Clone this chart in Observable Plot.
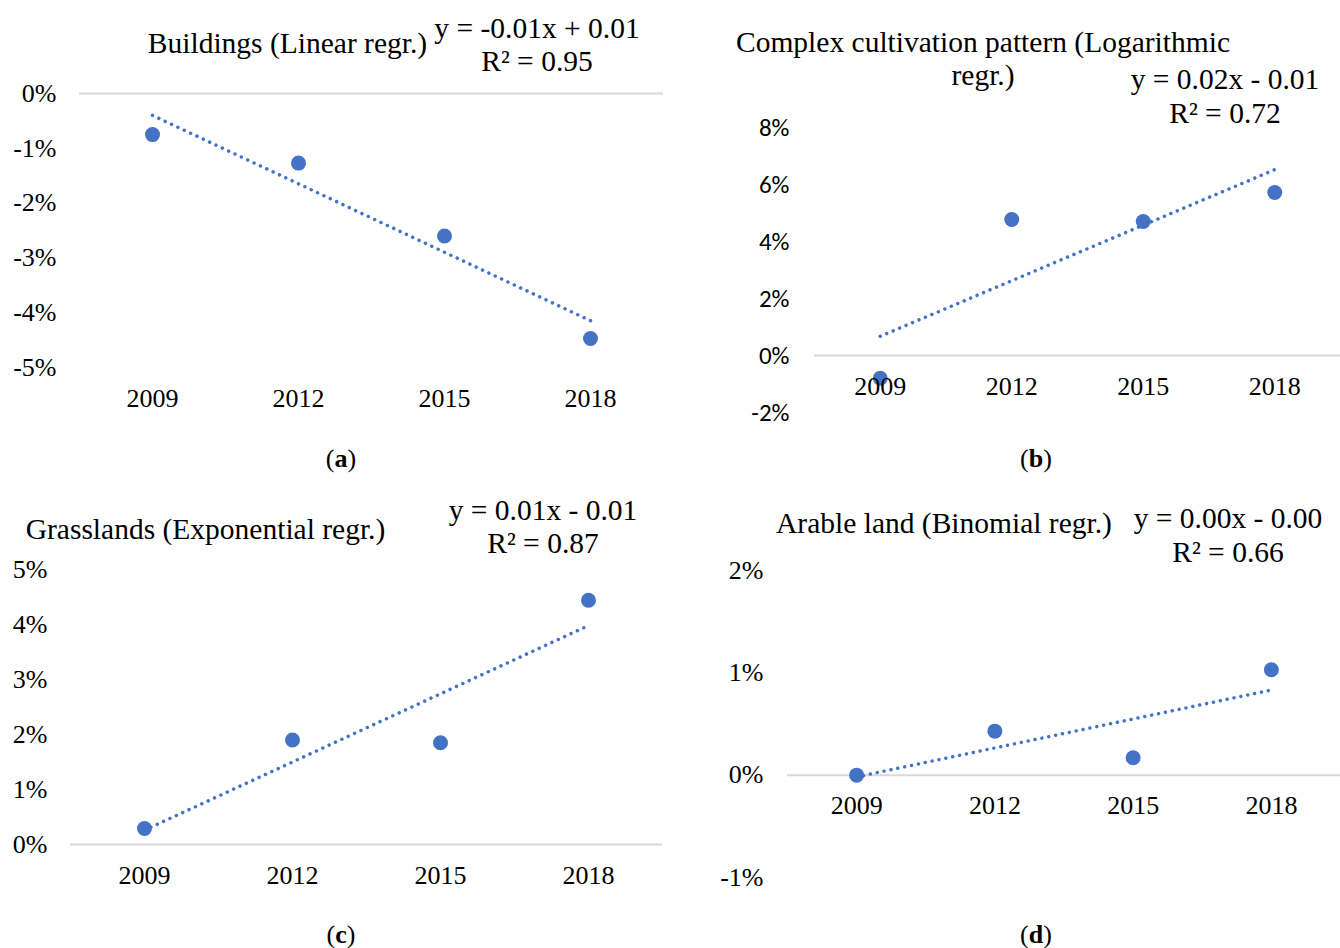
<!DOCTYPE html>
<html>
<head>
<meta charset="utf-8">
<script src="https://cdn.jsdelivr.net/npm/d3@7"></script>
<script src="https://cdn.jsdelivr.net/npm/@observablehq/plot@0.6"></script>
<style>
  html, body { margin: 0; padding: 0; background: #fff; }
  #page { position: relative; width: 1340px; height: 948px; overflow: hidden; font-family: "Liberation Serif", "Times New Roman", serif; color: #000; }
  .abs { position: absolute; white-space: nowrap; transform: translateX(-50%); text-align: center; }
  .plotbox { position: absolute; }
  .plotbox svg { overflow: visible; }
  .plotbox svg text { font-family: "Liberation Serif", "Times New Roman", serif; }
  .plotbox.sansticks g[aria-label="y-axis tick label"] text { font-family: Carlito, Calibri, Lato, "Noto Sans", sans-serif; }
</style>
</head>
<body>
<div id="page"></div>
<script>
// ---- data ----
const years = [2009, 2012, 2015, 2018];
const buildings = [-0.75, -1.27, -2.6, -4.47];
const complexCultivation = [-0.8, 4.77, 4.7, 5.72];
const grasslands = [0.29, 1.9, 1.85, 4.44];
const arableLand = [0, 0.43, 0.17, 1.03];

const ticksA = [0, -1, -2, -3, -4, -5];
const ticksB = [8, 6, 4, 2, 0, -2];
const ticksC = [0, 1, 2, 3, 4, 5];
const ticksD = [2, 1, 0, -1];

const titles = ["Buildings (Linear regr.)", "Complex cultivation pattern (Logarithmic<br>regr.)", "Grasslands (Exponential regr.)", "Arable land (Binomial regr.)"];
const equations = ["y = -0.01x + 0.01", "y = 0.02x - 0.01", "y = 0.01x - 0.01", "y = 0.00x - 0.00"];
const rSquared = ["R² = 0.95", "R² = 0.72", "R² = 0.87", "R² = 0.66"];
const captions = ["a", "b", "c", "d"];

const BLUE = "#4472C4";
const page = document.getElementById("page");

function panel(o) {
  const data = years.map((year, i) => ({year, value: o.values[i]}));
  const chart = Plot.plot({
    width: o.width, height: o.height,
    marginLeft: o.mL, marginRight: o.mR, marginTop: o.mT, marginBottom: o.mB,
    x: {domain: [2007.5, 2019.5], axis: null},
    y: {domain: o.domain},
    style: {fontFamily: "'Liberation Serif', 'Times New Roman', serif", fontSize: "26px", color: "#000", background: "transparent"},
    marks: [
      Plot.ruleY([0], {stroke: "#d9d9d9", strokeWidth: 2}),
      Plot.axisY({ticks: o.ticks, tickSize: 0, tickPadding: o.tickPad, tickFormat: d => `${d}%`, label: null,
        fontSize: o.tickFontSize, fill: "#000"}),
      Plot.linearRegressionY(data, {x: "year", y: "value", stroke: BLUE, strokeWidth: 3.5,
        strokeDasharray: "0.01 7", strokeLinecap: "round", ci: 0}),
      Plot.dot(data, {x: "year", y: "value", r: 7.5, fill: BLUE}),
      Plot.text(years, {x: d => d, y: () => o.labelAt, dy: 31, text: d => String(d), fontSize: 26, fill: "#000"})
    ]
  });
  const box = document.createElement("div");
  box.className = "plotbox" + (o.sans ? " sansticks" : "");
  box.style.left = o.left + "px";
  box.style.top = o.top + "px";
  box.appendChild(chart);
  page.appendChild(box);
}

// cy = vertical centre of the first line
function label(html, cx, cy, fs, lh) {
  const d = document.createElement("div");
  d.className = "abs";
  d.innerHTML = html;
  d.style.left = cx + "px";
  d.style.top = (cy - lh / 2) + "px";
  d.style.fontSize = fs + "px";
  d.style.lineHeight = lh + "px";
  page.appendChild(d);
}

panel({values: buildings, ticks: ticksA, domain: [-5, 0], left: 0, top: 0, width: 670, height: 440,
  mL: 79, mR: 7, mT: 93, mB: 73, tickPad: 23, tickFontSize: 26, labelAt: -5});
panel({values: complexCultivation, ticks: ticksB, domain: [-2, 8], left: 670, top: 0, width: 670, height: 440,
  mL: 144, mR: 0, mT: 127, mB: 28, tickPad: 25, tickFontSize: 25, labelAt: 0, sans: true});
panel({values: grasslands, ticks: ticksC, domain: [0, 5], left: 0, top: 470, width: 670, height: 440,
  mL: 70, mR: 8, mT: 99, mB: 66, tickPad: 23, tickFontSize: 26, labelAt: 0});
panel({values: arableLand, ticks: ticksD, domain: [-1, 2], left: 670, top: 470, width: 670, height: 440,
  mL: 117, mR: 0, mT: 100, mB: 33, tickPad: 24, tickFontSize: 26, labelAt: 0});

// titles
label(titles[0], 287.5, 43, 29.5, 33);
label(titles[1], 983, 42, 29.5, 33);
label(titles[2], 205.5, 529, 29.5, 33);
label(titles[3], 944, 523, 29.5, 33);

// regression equations
label(equations[0] + "<br>" + rSquared[0], 537, 28, 29.5, 33);
label(equations[1] + "<br>" + rSquared[1], 1225, 79, 29.5, 34);
label(equations[2] + "<br>" + rSquared[2], 543, 510, 29.5, 33);
label(equations[3] + "<br>" + rSquared[3], 1228, 518, 29.5, 34);

// captions
const capPos = [[341, 459], [1036, 459], [341, 935], [1036, 935]];
captions.forEach((c, i) => label(`(<b>${c}</b>)`, capPos[i][0], capPos[i][1], 26, 30));
</script>
</body>
</html>
